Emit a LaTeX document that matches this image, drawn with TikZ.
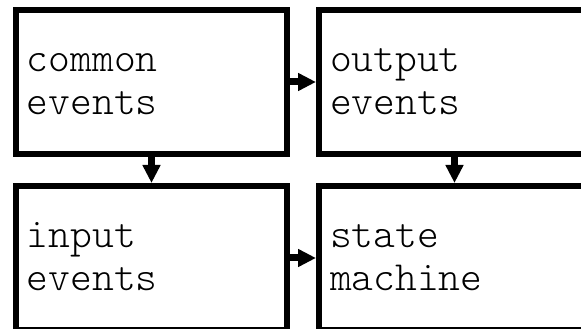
\documentclass[tikz,border=0pt]{standalone}
\usepackage{fontspec}
\setmonofont{Latin Modern Mono Light}
\usetikzlibrary{arrows.meta, positioning}
\tikzset{
    box/.style={
        rectangle, draw=black, line width=6pt,
        minimum width=271pt, minimum height=144pt,
        text width=249pt, inner xsep=11pt, align=left,
        text height=20pt, text depth=40pt,
        font=\ttfamily\fontsize{41.5}{43}\selectfont
    },
    arrow/.style={-{Triangle[length=18pt, width=17pt]}, line width=7pt}
}
\begin{document}
\begin{tikzpicture}
\useasboundingbox (0,0) rectangle (581pt,329pt);
\fill[white] (0,0) rectangle (581pt,329pt);
\clip (0,0) rectangle (581pt,329pt);

% ── Top row: common and output events ───────────────────────────────────────
\node[box] (common) at (151.5pt,247pt) {common\\events};
\node[box, right=26pt of common] (output) {output\\events};

% ── Bottom row: input events and state machine ──────────────────────────────
\node[box, below=26pt of common] (input) {input\\events};
\node[box, right=26pt of input] (machine) {state\\machine};

% ── Arrows ──────────────────────────────────────────────────────────────────
\draw[arrow] (common.east)  -- (output.west);
\draw[arrow] (common.south) -- (input.north);
\draw[arrow] (output.south) -- (machine.north);
\draw[arrow] (input.east)   -- (machine.west);

\end{tikzpicture}
\end{document}
